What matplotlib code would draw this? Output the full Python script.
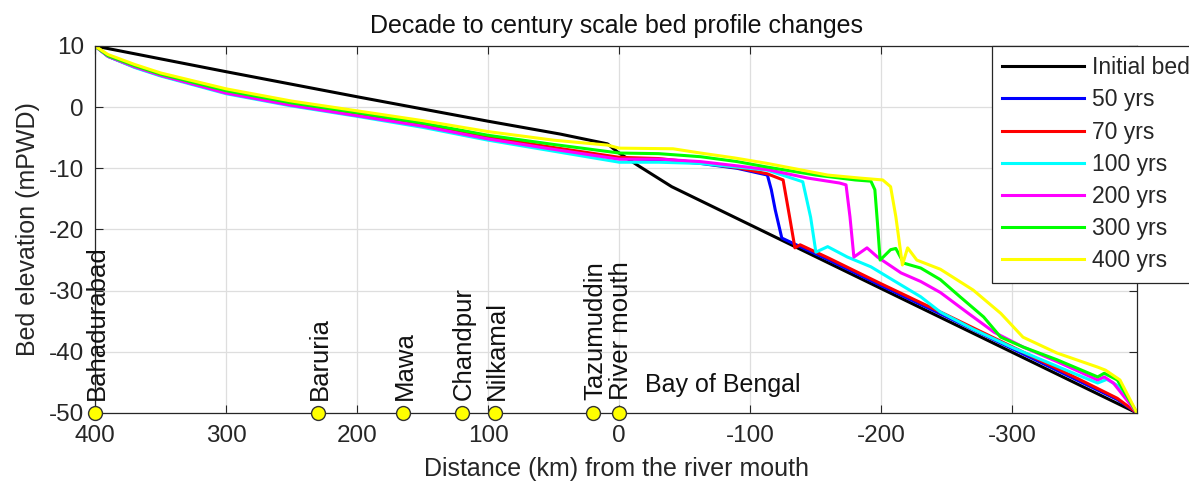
import numpy as np
import matplotlib
matplotlib.use("Agg")
from matplotlib import pyplot as plt

plt.rcParams['font.family'] = ['Liberation Sans', 'DejaVu Sans']
plt.rcParams['axes.unicode_minus'] = False

# distance from river mouth (km, positive upstream) and bed level (mPWD)
init_x = [400, 300, 200, 100, 45, 9, 1.5, -14, -40, -395]
init_y = [10, 5.8, 1.7, -2.3, -4.4, -6.0, -7.3, -9.5, -13.0, -50]

yr50_x = [400, 390, 370, 350, 300, 250, 200, 150, 100, 50, 0, -30, -62, -90,
          -113, -116, -119, -124, -133, -160, -200, -250, -300, -350, -380, -395]
yr50_y = [10, 8.3, 6.6, 5.2, 2.4, 0.4, -1.3, -3.0, -5.0, -6.8, -8.4, -8.6, -9.2, -10.0,
          -11.1, -13.5, -16.8, -21.4, -22.3, -25.0, -29.2, -34.3, -39.5, -44.7, -47.8, -50]

yr70_x = [400, 390, 370, 350, 300, 250, 200, 150, 100, 50, 0, -30, -62, -90,
          -113, -125, -130, -134, -138, -146, -160, -200, -250, -300, -350, -380, -395]
yr70_y = [10, 8.35, 6.7, 5.3, 2.5, 0.5, -1.2, -2.9, -4.9, -6.6, -8.2, -8.4, -9.1, -9.9,
          -10.9, -11.9, -18.0, -23.0, -22.5, -23.3, -24.7, -28.9, -34.0, -39.2, -44.4, -47.6, -50]

yr100_x = [400, 390, 370, 350, 300, 250, 200, 150, 100, 50, 0, -30, -62, -90,
           -113, -140, -146, -150, -159, -174, -192, -209, -230, -245, -270, -300,
           -330, -350, -365, -372, -380, -395]
yr100_y = [10, 8.3, 6.5, 5.1, 2.2, 0.2, -1.5, -3.3, -5.4, -7.2, -9.0, -9.0, -9.2, -9.8,
           -10.3, -12.2, -18.0, -23.7, -22.8, -24.5, -26.1, -28.3, -31.0, -33.5, -36.3, -39.3,
           -42.0, -43.8, -45.1, -44.5, -45.5, -50]

yr200_x = [400, 390, 370, 350, 300, 250, 200, 150, 100, 50, 0, -31, -62, -90,
           -113, -144, -168, -173, -176, -179, -189, -197, -215, -230, -245, -265,
           -286, -308, -334, -365, -370, -377, -395]
yr200_y = [10, 8.3, 6.6, 5.2, 2.3, 0.3, -1.4, -3.1, -5.2, -6.9, -8.5, -8.5, -8.9, -9.6,
           -10.2, -11.6, -12.4, -12.7, -17.9, -24.5, -23.0, -24.5, -27.1, -28.5, -30.3, -33.5,
           -36.8, -39.2, -41.6, -44.6, -44.1, -45.1, -50]

yr300_x = [400, 390, 370, 350, 300, 250, 200, 150, 100, 50, 0, -30, -62, -90,
           -113, -150, -180, -192, -195, -197, -199, -207, -211, -217, -230, -245,
           -260, -278, -291, -308, -334, -365, -370, -380, -395]
yr300_y = [10, 8.4, 6.8, 5.4, 2.7, 0.7, -0.9, -2.6, -4.6, -6.1, -7.5, -7.6, -8.1, -8.9,
           -9.8, -11.1, -11.9, -12.1, -13.5, -19.0, -25.0, -23.3, -23.1, -25.5, -26.3, -28.2,
           -31.0, -34.3, -37.6, -39.2, -41.3, -44.1, -43.5, -44.6, -50]

yr400_x = [400, 390, 370, 350, 300, 250, 200, 150, 100, 50, 9, 0, -41, -62, -88,
           -113, -159, -184, -201, -207, -211, -216, -220, -227, -245, -270, -291,
           -308, -334, -365, -371, -382, -395]
yr400_y = [10, 8.6, 7.0, 5.6, 3.0, 1.0, -0.6, -2.2, -4.0, -5.4, -6.2, -6.7, -6.8, -7.5, -8.3,
           -9.2, -11.1, -11.6, -11.9, -13.0, -17.9, -25.8, -23.0, -25.0, -26.5, -29.9, -33.7,
           -37.6, -40.2, -42.5, -43.0, -44.6, -50]

series_labels = ['Initial bed', '50 yrs', '70 yrs', '100 yrs', '200 yrs', '300 yrs', '400 yrs']
series_colors = ['#000000', '#0000ff', '#ff0000', '#00ffff', '#ff00ff', '#00ff00', '#ffff00']

stations = ['Bahadurabad', 'Baruria', 'Mawa', 'Chandpur', 'Nilkamal', 'Tazumuddin', 'River mouth']
station_km = [400, 230, 165, 120, 95, 20, 0]

xticks = [400, 300, 200, 100, 0, -100, -200, -300]
yticks = [-50, -40, -30, -20, -10, 0, 10]

txt = '#262626'

fig = plt.figure(figsize=(11.89, 4.88), dpi=100)
ax = fig.add_axes([95 / 1189, 1 - 413 / 488, (1137 - 95) / 1189, (413 - 46) / 488])

xs = [init_x, yr50_x, yr70_x, yr100_x, yr200_x, yr300_x, yr400_x]
ys = [init_y, yr50_y, yr70_y, yr100_y, yr200_y, yr300_y, yr400_y]
handles = []
for x, y, c, lab in zip(xs, ys, series_colors, series_labels):
    h, = ax.plot(x, y, color=c, lw=2.2, label=lab)
    handles.append(h)

# gauging stations along the river
ax.plot(station_km, [-50] * len(station_km), 'o', ms=10, mfc='#ffff00', mec='#333333',
        mew=1.0, clip_on=False, zorder=5)
for name, km in zip(stations, station_km):
    ax.text(km - 1.5, -47.8, name, rotation=90, ha='center', va='bottom',
            fontsize=18.5, color='#111111')
ax.text(-20, -45.5, 'Bay of Bengal', ha='left', va='center', fontsize=18, color='#111111')

ax.set_xlim(400, -395)
ax.set_ylim(-50, 10)
ax.set_xticks(xticks)
ax.set_yticks(yticks)
ax.grid(True, color='#dedede', lw=0.9)
ax.set_axisbelow(True)
ax.tick_params(direction='in', length=6, width=0.8, colors=txt, labelsize=17.5,
               top=True, right=True)
ax.tick_params(axis='x', pad=9)
ax.tick_params(axis='y', pad=8)
for s in ax.spines.values():
    s.set_color(txt)
    s.set_linewidth(0.9)

ax.set_title('Decade to century scale bed profile changes', fontsize=18, color='#111111', pad=9)
ax.set_xlabel('Distance (km) from the river mouth', fontsize=18, color=txt, labelpad=7)
ax.set_ylabel('Bed elevation (mPWD)', fontsize=18, color=txt, labelpad=6)

leg = fig.legend(handles=handles, loc='upper left', bbox_to_anchor=(992 / 1189, 1 - 46 / 488),
                 borderaxespad=0, fancybox=False, framealpha=1, edgecolor=txt,
                 fontsize=16.5, handlelength=3.55, handletextpad=0.35, borderpad=0.45,
                 labelspacing=0.4)
leg.get_frame().set_linewidth(0.9)
for t in leg.get_texts():
    t.set_color(txt)

fig.savefig('out.png', dpi=100)
